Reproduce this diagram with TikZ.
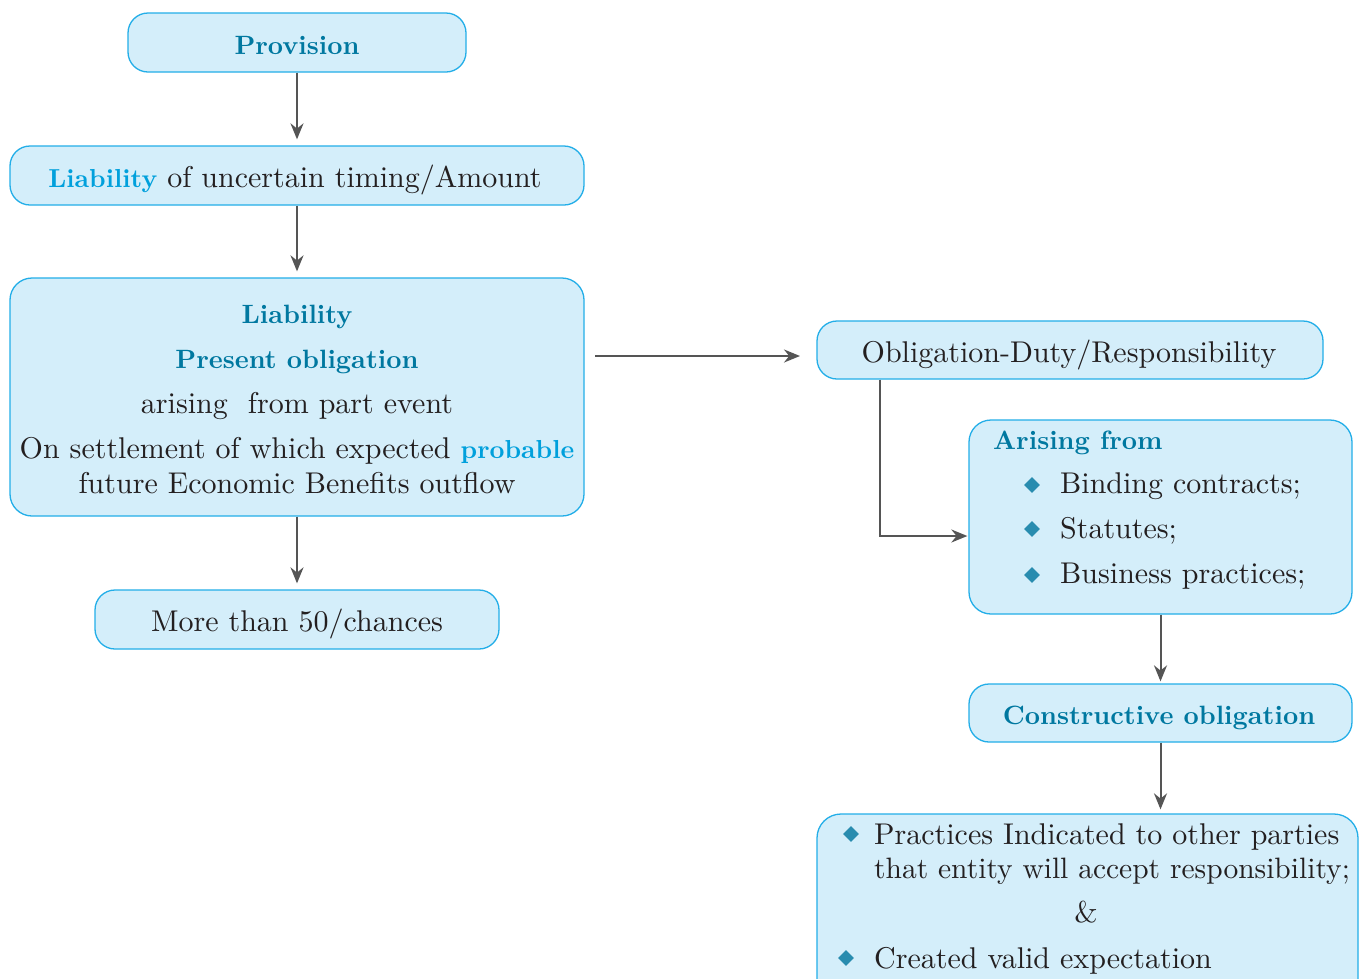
\documentclass[tikz,border=0pt]{standalone}
\usepackage{fontspec}
\setmainfont{lmroman10-regular}[Extension=.otf, BoldFont=lmroman10-bold]
\usetikzlibrary{arrows.meta,shapes.geometric}
\definecolor{boxfill}{RGB}{212,238,250}
\definecolor{boxdraw}{RGB}{35,174,232}
\definecolor{headc}{RGB}{0,120,160}
\definecolor{brightc}{RGB}{0,160,220}
\definecolor{txtc}{RGB}{35,31,32}
\definecolor{arrc}{RGB}{85,85,85}
\definecolor{bulc}{RGB}{40,140,175}
\newcommand{\hb}[1]{{\fontsize{26}{30}\selectfont\bfseries #1}}
\tikzset{
 box/.style={draw=boxdraw, fill=boxfill, line width=1.3pt, rounded corners=20pt, inner sep=0pt},
 txt/.style={anchor=base, inner sep=0pt, text=txtc, font=\fontsize{30}{34}\selectfont},
 txtl/.style={txt, anchor=base west},
 head/.style={anchor=base, inner sep=0pt, text=headc, font=\fontsize{26.5}{30}\selectfont\bfseries},
 conn/.style={draw=arrc, line width=2pt, -{Stealth[length=16pt,width=13pt]}},
 bul/.style={diamond, fill=bulc, inner sep=0pt, minimum size=16pt},
}
\begin{document}
\begin{tikzpicture}[x=1pt,y=-1pt]
\clip (0,0) rectangle (1359,978);
\fill[white] (0,0) rectangle (1359,978);
% boxes
\node[box, minimum width=338pt, minimum height=59pt] (prov) at (297,42.5) {};
\node[box, minimum width=574pt, minimum height=59pt] (liab) at (297,175.5) {};
\node[box, minimum width=574pt, minimum height=238pt, rounded corners=22pt] (big) at (297,397) {};
\node[box, minimum width=404pt, minimum height=59pt] (more) at (297,619.5) {};
\node[box, minimum width=506pt, minimum height=58pt] (oblig) at (1070,350) {};
\node[box, minimum width=383pt, minimum height=194pt, rounded corners=22pt] (arise) at (1160.5,517) {};
\node[box, minimum width=383pt, minimum height=58pt] (constr) at (1160.5,713) {};
\node[box, minimum width=541pt, minimum height=190pt, rounded corners=24pt] (prac) at (1087.5,909) {};
% texts
\node[head] (tprov) at (297,54) {Provision};
\node[txt] (tliab) at (295,187) {\textcolor{brightc}{\hb{Liability}} of uncertain timing/Amount};
\node[head] (tb1) at (297,323) {Liability};
\node[head] (tb2) at (297,368) {Present obligation};
\node[txt] (tb3) at (297,413) {arising~ from part event};
\node[txt] (tb4) at (297,458) {On settlement of which expected \textcolor{brightc}{\hb{probable}}};
\node[txt] (tb5) at (297,493) {future Economic Benefits outflow};
\node[txt] (tmore) at (297,631) {More than 50/chances};
\node[txt] (tob) at (1069,362) {Obligation-Duty/Responsibility};
\node[head, anchor=base west] (tar) at (993,449) {Arising from};
\node[bul] (b1) at (1032,485) {};
\node[txtl] (ta1) at (1060,493) {Binding contracts;};
\node[bul] (b2) at (1032,529) {};
\node[txtl] (ta2) at (1060,538) {Statutes;};
\node[bul] (b3) at (1032,575) {};
\node[txtl] (ta3) at (1060,583) {Business practices;};
\node[head] (tcon) at (1159,724) {Constructive obligation};
\node[bul] (b4) at (851,834) {};
\node[txtl] (tp1) at (874,844) {Practices Indicated to other parties};
\node[txtl, font=\fontsize{29.5}{34}\selectfont] (tp2) at (874,878) {that entity will accept responsibility;};
\node[txt] (tamp) at (1086,922) {\&};
\node[bul] (b5) at (846,958) {};
\node[txtl] (tp3) at (874,968) {Created valid expectation};
% connectors
\coordinate (h1) at (595,356);
\coordinate (h2) at (800,356);
\draw[conn, shorten >=6pt] (prov.south) -- (liab.north);
\draw[conn, shorten >=6pt] (liab.south) -- (big.north);
\draw[conn, shorten >=6pt] (big.south) -- (more.north);
\draw[conn] (h1) -- (h2);
\draw[conn, shorten >=1pt] ([xshift=64pt]oblig.south west) |- ([yshift=-19pt]arise.west);
\draw[conn, shorten >=2pt] (arise.south) -- (constr.north);
\draw[conn, shorten >=4pt] (constr.south) -- (constr.south |- prac.north);
\end{tikzpicture}
\end{document}
